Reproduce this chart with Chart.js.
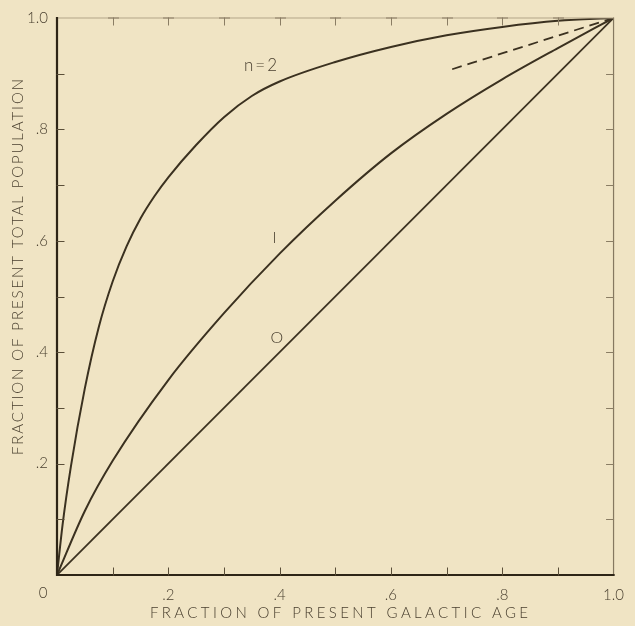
<!DOCTYPE html>
<html>
<head>
<meta charset="utf-8">
<script src="https://cdn.jsdelivr.net/npm/chart.js@4"></script>
<style>
  html, body { margin: 0; padding: 0; background: #f0e4c4; }
  #wrap { width: 635px; height: 626px; }
</style>
</head>
<body>
<div id="wrap"><canvas id="chart" width="635" height="626"></canvas></div>
<script>
// curve n = 2
const n2X = [0, 0.01, 0.025, 0.05, 0.075, 0.1, 0.125, 0.15, 0.175, 0.2, 0.25, 0.3, 0.35, 0.4, 0.5, 0.6, 0.7, 0.8, 0.9, 1.0];
const n2Y = [0, 0.09, 0.195, 0.335, 0.445, 0.527, 0.59, 0.64, 0.68, 0.714, 0.772, 0.822, 0.860, 0.886, 0.921, 0.948, 0.969, 0.984, 0.995, 1.0];
// curve n = 1
const n1X = [0, 0.05, 0.1, 0.2, 0.3, 0.4, 0.5, 0.6, 0.7, 0.8, 0.9, 1.0];
const n1Y = [0, 0.115, 0.205, 0.35, 0.47, 0.577, 0.672, 0.757, 0.828, 0.89, 0.946, 1.0];
// curve n = 0
const n0X = [0, 1.0];
const n0Y = [0, 1.0];
// dashed segment
const dashX = [0.71, 1.0];
const dashY = [0.908, 1.0];

const tickLabels = { 0: "", 0.2: ".2", 0.4: ".4", 0.6: ".6", 0.8: ".8", 1: "1.0" };
const curveLabels = ["n=2", "I", "O"];
const labelX = [0.336, 0.391, 0.395];
const labelY = [0.915, 0.606, 0.426];

const xTitle = "FRACTION OF PRESENT GALACTIC AGE";
const yTitle = "FRACTION OF PRESENT TOTAL POPULATION";

const ink = "#3b3120";
const textInk = "#4a4030";
const fontFam = "Lato, 'Open Sans', 'DejaVu Sans', sans-serif";

const pts = (xs, ys) => xs.map((x, i) => ({ x: x, y: ys[i] }));

function lineSet(data, width, dash) {
  return {
    data: data,
    borderColor: ink,
    borderWidth: width,
    borderDash: dash || [],
    pointRadius: 0,
    fill: false,
    cubicInterpolationMode: "monotone",
  };
}

// frame, inner ticks and text
const decor = {
  id: "decor",
  beforeDraw(chart) {
    const ctx = chart.ctx;
    ctx.save();
    ctx.fillStyle = "#f0e4c4";
    ctx.fillRect(0, 0, chart.width, chart.height);
    ctx.restore();
  },
  afterDraw(chart) {
    const ctx = chart.ctx;
    const a = chart.chartArea;
    const xs = chart.scales.x, ys = chart.scales.y;
    ctx.save();

    // frame
    ctx.lineCap = "square";
    ctx.strokeStyle = "#b3a588"; ctx.lineWidth = 1;
    ctx.beginPath(); ctx.moveTo(a.left, a.top); ctx.lineTo(a.right, a.top); ctx.stroke();
    ctx.strokeStyle = "#857860"; ctx.lineWidth = 1.2;
    ctx.beginPath(); ctx.moveTo(a.right, a.top); ctx.lineTo(a.right, a.bottom); ctx.stroke();
    ctx.strokeStyle = "#2e2516"; ctx.lineWidth = 2.2;
    ctx.beginPath(); ctx.moveTo(a.left, a.top); ctx.lineTo(a.left, a.bottom); ctx.lineTo(a.right, a.bottom); ctx.stroke();

    // inward ticks every 0.1
    ctx.lineWidth = 1;
    const len = 7;
    for (let i = 1; i < 10; i++) {
      const v = i / 10;
      const px = Math.round(xs.getPixelForValue(v)) + 0.5;
      const py = Math.round(ys.getPixelForValue(v)) + 0.5;
      ctx.strokeStyle = "#5a4e38";
      ctx.beginPath(); ctx.moveTo(px, a.bottom); ctx.lineTo(px, a.bottom - len); ctx.stroke();
      ctx.beginPath(); ctx.moveTo(a.left, py); ctx.lineTo(a.left + len, py); ctx.stroke();
      ctx.strokeStyle = "#8a7d64";
      ctx.beginPath(); ctx.moveTo(px - 5, a.top); ctx.lineTo(px + 5, a.top); ctx.stroke();
      ctx.beginPath(); ctx.moveTo(px, a.top); ctx.lineTo(px, a.top + len); ctx.stroke();
      ctx.beginPath(); ctx.moveTo(a.right, py); ctx.lineTo(a.right - len, py); ctx.stroke();
    }

    // curve labels
    ctx.fillStyle = textInk;
    ctx.textBaseline = "middle";
    curveLabels.forEach((t, i) => {
      ctx.font = "300 " + (i === 0 ? 17 : 16) + "px " + fontFam;
      ctx.letterSpacing = i === 0 ? "2px" : "0px";
      ctx.textAlign = i === 0 ? "left" : "center";
      ctx.fillText(t, xs.getPixelForValue(labelX[i]), ys.getPixelForValue(labelY[i]));
    });
    ctx.letterSpacing = "0px";

    // shared origin label
    ctx.font = "300 15px " + fontFam;
    ctx.textAlign = "center";
    ctx.fillText("0", 43, 593);

    // axis titles, spread to their widths
    function spaced(text, cx, cy, width, rot) {
      ctx.save();
      ctx.translate(cx, cy);
      ctx.rotate(rot);
      ctx.font = "300 15px " + fontFam;
      ctx.letterSpacing = "0px";
      const w = ctx.measureText(text).width;
      const sp = (width - w) / (text.length - 1);
      ctx.letterSpacing = sp + "px";
      ctx.textAlign = "left";
      ctx.textBaseline = "middle";
      ctx.fillText(text, -width / 2, 0);
      ctx.restore();
    }
    spaced(xTitle, 339, 613, 378, 0);
    spaced(yTitle, 18, 267, 376, -Math.PI / 2);

    ctx.restore();
  }
};

const tickFont = { family: fontFam, size: 15, weight: 300 };

new Chart(document.getElementById("chart"), {
  type: "line",
  data: {
    datasets: [
      lineSet(pts(n2X, n2Y), 2),
      lineSet(pts(n1X, n1Y), 2),
      lineSet(pts(n0X, n0Y), 1.8),
      lineSet(pts(dashX, dashY), 1.8, [10, 6]),
    ],
  },
  options: {
    responsive: false,
    animation: false,
    layout: { padding: { top: 12, right: 13, left: 0, bottom: 0 } },
    plugins: { legend: { display: false }, tooltip: { enabled: false } },
    scales: {
      x: {
        type: "linear", min: 0, max: 1,
        grid: { display: false, drawTicks: false },
        border: { display: false },
        ticks: {
          stepSize: 0.2, padding: 11, color: textInk, font: tickFont,
          maxRotation: 0,
          callback: (v) => tickLabels[Math.round(v * 10) / 10] ?? "",
        },
        afterFit: (s) => { s.height = 51; },
      },
      y: {
        type: "linear", min: 0, max: 1,
        grid: { display: false, drawTicks: false },
        border: { display: false },
        ticks: {
          stepSize: 0.2, padding: 9, color: textInk, font: tickFont,
          callback: (v) => tickLabels[Math.round(v * 10) / 10] ?? "",
        },
        afterFit: (s) => { s.width = 57; },
      },
    },
  },
  plugins: [decor],
});
</script>
</body>
</html>
